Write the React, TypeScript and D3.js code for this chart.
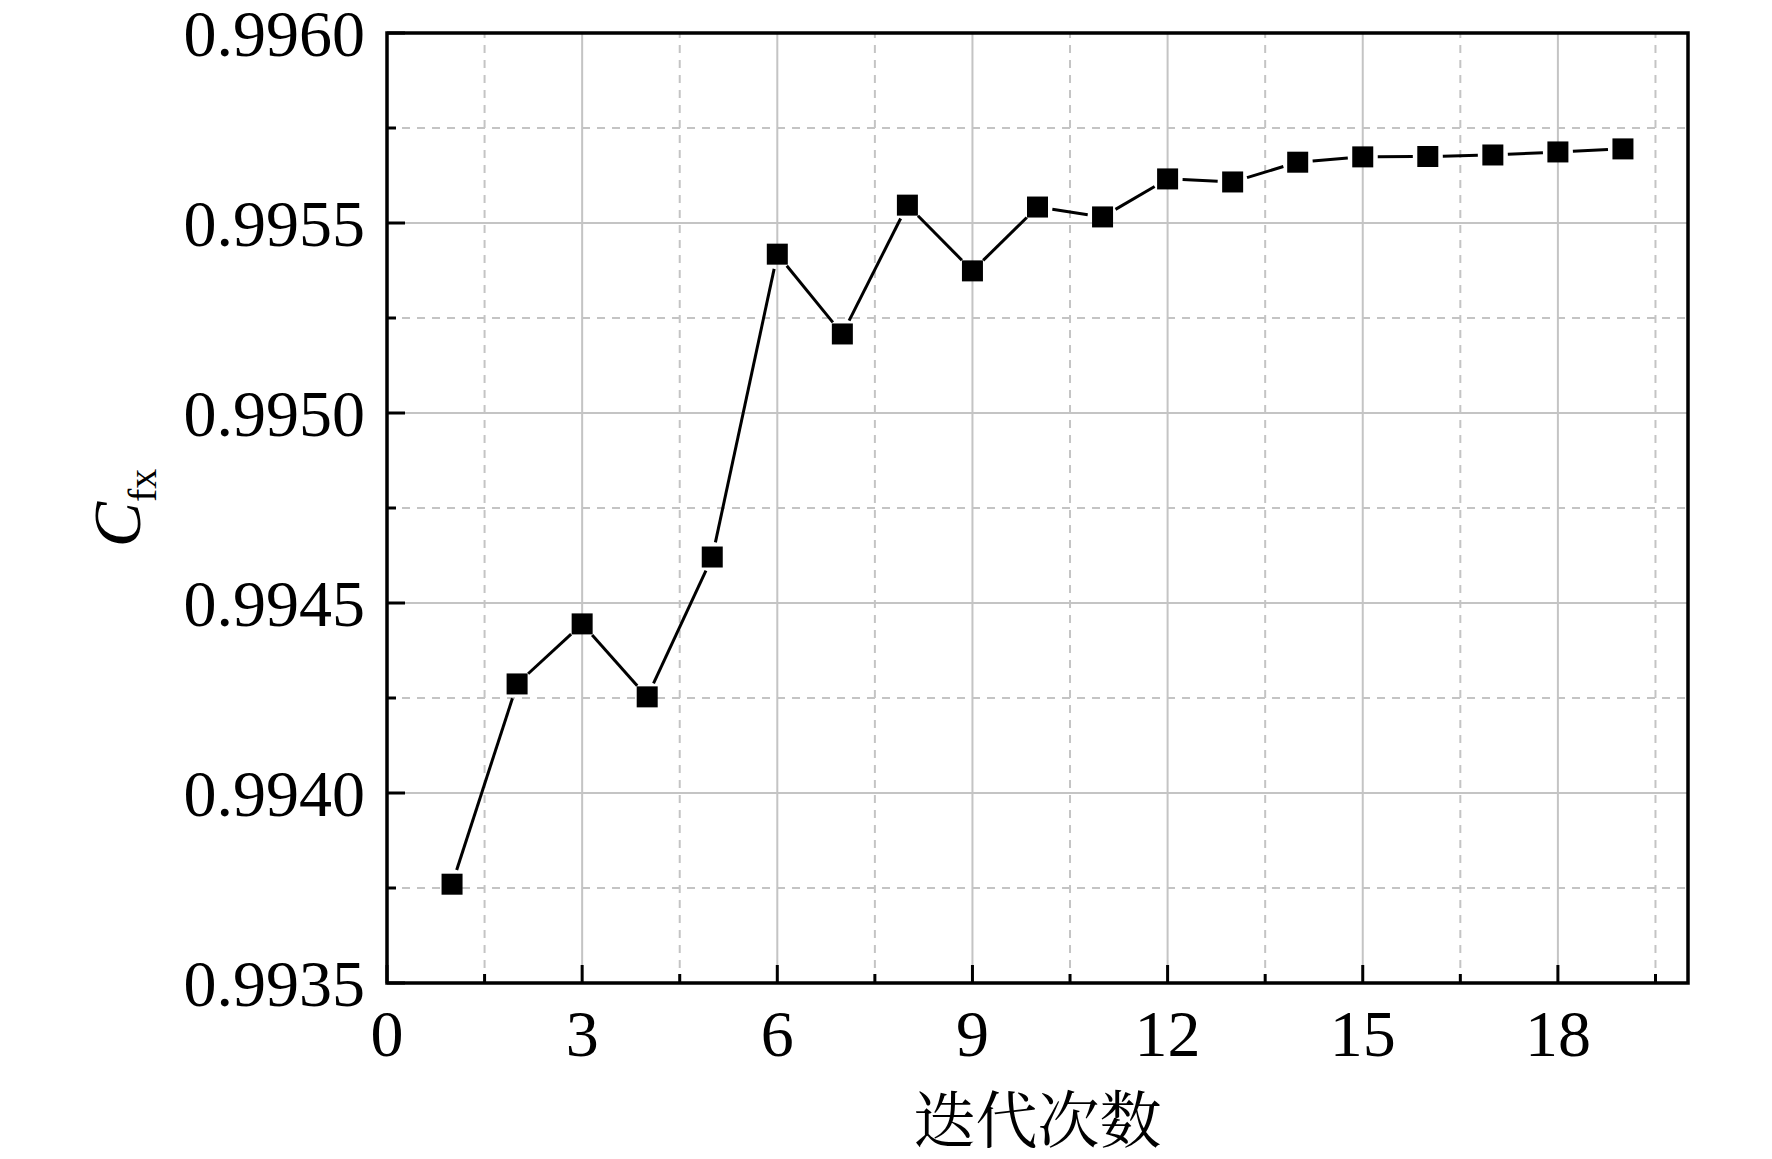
import React from 'react'
import * as d3 from 'd3'

// iteration number and Cfx value
const iterations = [1, 2, 3, 4, 5, 6, 7, 8, 9, 10, 11, 12, 13, 14, 15, 16, 17, 18, 19]
const cfxValues = [
    0.99376, 0.994287, 0.994445, 0.994253, 0.994621, 0.995418, 0.995208, 0.995547, 0.995374, 0.995542,
    0.995516, 0.995616, 0.995608, 0.99566, 0.995674, 0.995675, 0.995679, 0.995687, 0.995695,
]
const xMajorTicks = [0, 3, 6, 9, 12, 15, 18]
const xMinorTicks = [1.5, 4.5, 7.5, 10.5, 13.5, 16.5, 19.5]
const yMajorTicks = [0.9935, 0.994, 0.9945, 0.995, 0.9955, 0.996]
const yMinorTicks = [0.99375, 0.99425, 0.99475, 0.99525, 0.99575]

const width = 1772
const height = 1159
const margin = { left: 387, right: 84, top: 33, bottom: 176 }

const serif = '"Liberation Serif", "Times New Roman", serif'
const gridColor = '#c4c4c4'

const App = () => {
    const x = d3.scaleLinear().domain([0, 20]).range([margin.left, width - margin.right])
    const y = d3.scaleLinear().domain([0.9935, 0.996]).range([height - margin.bottom, margin.top])
    const fmt = d3.format('.4f')

    const [x0, x1] = x.range()
    const [y0, y1] = y.range()

    const points = iterations.map((it, i) => ({ px: x(it), py: y(cfxValues[i]) }))
    const gap = 15
    // segments are cut short near each marker, like the original plot
    const segments = points.slice(1).map((p, i) => {
        const a = points[i]
        const dx = p.px - a.px
        const dy = p.py - a.py
        const len = Math.sqrt(dx * dx + dy * dy)
        const ux = dx / len
        const uy = dy / len
        return {
            x1: a.px + ux * gap, y1: a.py + uy * gap,
            x2: p.px - ux * gap, y2: p.py - uy * gap,
            show: len > gap * 2,
        }
    })

    const markerSize = 21

    return (
        <svg width={width} height={height} style={{ position: 'absolute', left: 0, top: 0, display: 'block', background: '#fff' }}>
            {/* grid */}
            <g>
                {xMinorTicks.map(t => (
                    <line key={'xm' + t} x1={x(t)} x2={x(t)} y1={y0} y2={y1} stroke={gridColor} strokeWidth={2} strokeDasharray="8,7" />
                ))}
                {yMinorTicks.map(t => (
                    <line key={'ym' + t} x1={x0} x2={x1} y1={y(t)} y2={y(t)} stroke={gridColor} strokeWidth={2} strokeDasharray="8,7" />
                ))}
                {xMajorTicks.filter(t => t > 0).map(t => (
                    <line key={'xM' + t} x1={x(t)} x2={x(t)} y1={y0} y2={y1} stroke={gridColor} strokeWidth={2} />
                ))}
                {yMajorTicks.filter(t => t > 0.9935 && t < 0.996).map(t => (
                    <line key={'yM' + t} x1={x0} x2={x1} y1={y(t)} y2={y(t)} stroke={gridColor} strokeWidth={2} />
                ))}
            </g>

            {/* ticks, inward */}
            <g stroke="#000" strokeWidth={3}>
                {xMajorTicks.map(t => <line key={'txM' + t} x1={x(t)} x2={x(t)} y1={y0} y2={y0 - 18} />)}
                {xMinorTicks.map(t => <line key={'txm' + t} x1={x(t)} x2={x(t)} y1={y0} y2={y0 - 9} />)}
                {yMajorTicks.map(t => <line key={'tyM' + t} x1={x0} x2={x0 + 18} y1={y(t)} y2={y(t)} />)}
                {yMinorTicks.map(t => <line key={'tym' + t} x1={x0} x2={x0 + 9} y1={y(t)} y2={y(t)} />)}
            </g>

            {/* frame */}
            <rect x={x0} y={y1} width={x1 - x0} height={y0 - y1} fill="none" stroke="#000" strokeWidth={3.5} />

            {/* data line */}
            <g stroke="#000" strokeWidth={3}>
                {segments.filter(s => s.show).map((s, i) => (
                    <line key={'s' + i} x1={s.x1} y1={s.y1} x2={s.x2} y2={s.y2} />
                ))}
            </g>
            <g fill="#000">
                {points.map((p, i) => (
                    <rect key={'p' + i} x={p.px - markerSize / 2} y={p.py - markerSize / 2} width={markerSize} height={markerSize} />
                ))}
            </g>

            {/* tick labels */}
            <g fontFamily={serif} fontSize={66} fill="#000">
                {xMajorTicks.map(t => (
                    <text key={'lx' + t} x={x(t)} y={y0 + 73} textAnchor="middle">{t}</text>
                ))}
                {yMajorTicks.map(t => (
                    <text key={'ly' + t} x={x0 - 22} y={y(t) + 23} textAnchor="end">{fmt(t)}</text>
                ))}
            </g>

            {/* axis titles */}
            <text x={(x0 + x1) / 2} y={1143} textAnchor="middle" fontFamily='"Noto Serif CJK SC", "Noto Sans CJK SC", serif' fontSize={62} fill="#000">迭代次数</text>
            <text transform={`translate(140, ${(y0 + y1) / 2}) rotate(-90)`} textAnchor="middle" fontFamily={serif} fill="#000">
                <tspan fontSize={68} fontStyle="italic">C</tspan>
                <tspan fontSize={40} dy={16}>fx</tspan>
            </text>
        </svg>
    )
}

export default App
